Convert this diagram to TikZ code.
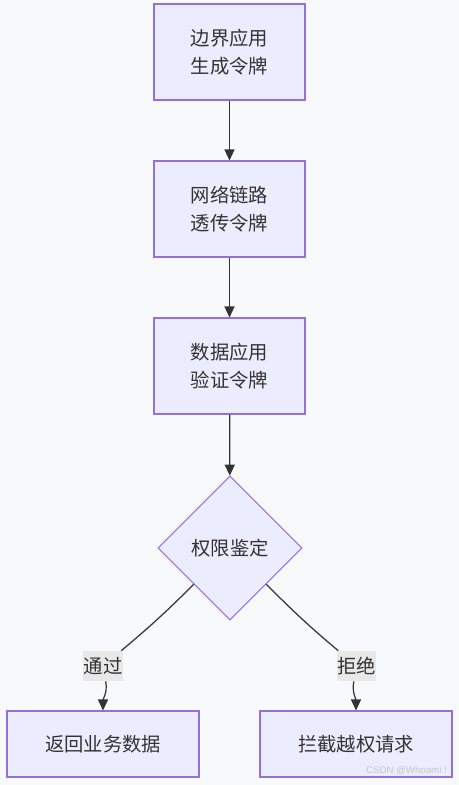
\documentclass[tikz,border=0pt]{standalone}
\usepackage{fontspec}
\setmainfont{Noto Sans CJK SC}
\newfontfamily\wmfont{Liberation Sans}
\usetikzlibrary{shapes.geometric,arrows.meta}
\definecolor{nodefill}{HTML}{ECECFF}
\definecolor{nodeline}{HTML}{9370DB}
\definecolor{edgecol}{HTML}{333333}
\definecolor{lblfill}{HTML}{E8E8E8}
\definecolor{pagebg}{HTML}{F8F9FA}
\tikzset{
  box/.style={draw=nodeline,fill=nodefill,line width=0.6pt,inner sep=0pt,
    minimum width=3.02cm,minimum height=1.92cm,align=center,text=edgecol,
    font=\fontsize{11}{16}\selectfont},
  endbox/.style={box,minimum width=3.84cm,minimum height=1.32cm},
  decision/.style={diamond,aspect=1,draw=nodeline,fill=nodefill,line width=0.6pt,
    inner sep=0pt,minimum width=2.88cm,minimum height=2.88cm,text=edgecol,
    font=\fontsize{11}{16}\selectfont},
  elabel/.style={fill=lblfill,inner sep=0pt,minimum width=0.8cm,minimum height=0.6cm,
    text=edgecol,font=\fontsize{11}{16}\selectfont},
  line/.style={draw=edgecol,line width=0.7pt},
  arr/.style={line,-{Triangle[length=0.22cm,width=0.2cm]}}
}
\begin{document}
\begin{tikzpicture}[x=0.02cm,y=-0.02cm]
  \fill[pagebg] (0,0) rectangle (459,785);
  \useasboundingbox (0,0) rectangle (459,785);
  % 令牌流转
  \node[box] (gen) at (229.5,52) {边界应用\\生成令牌};
  \node[box] (pass) at (229.5,209) {网络链路\\透传令牌};
  \node[box] (verify) at (229.5,366) {数据应用\\验证令牌};
  \node[decision] (auth) at (230,548) {权限鉴定};
  \draw[arr] (gen) -- (pass);
  \draw[arr] (pass) -- (verify);
  \draw[arr] (verify) -- (auth);
  % 鉴定结果
  \node[endbox] (ok) at (103,744) {返回业务数据};
  \node[endbox] (deny) at (356,744) {拦截越权请求};
  \node[elabel] (okl) at (103,666) {通过};
  \node[elabel] (denyl) at (356.5,666) {拒绝};
  \draw[line] (auth) to[out=-135,in=40] (okl);
  \draw[arr] (okl) to[out=-80,in=90] (ok);
  \draw[line] (auth) to[out=-45,in=140] (denyl);
  \draw[arr] (denyl) to[out=-100,in=90] (deny);
  \node[anchor=east,text=black!22,font=\wmfont\fontsize{5.5}{6}\selectfont] (wm) at (453,771) {CSDN @Whoami !};
\end{tikzpicture}
\end{document}
